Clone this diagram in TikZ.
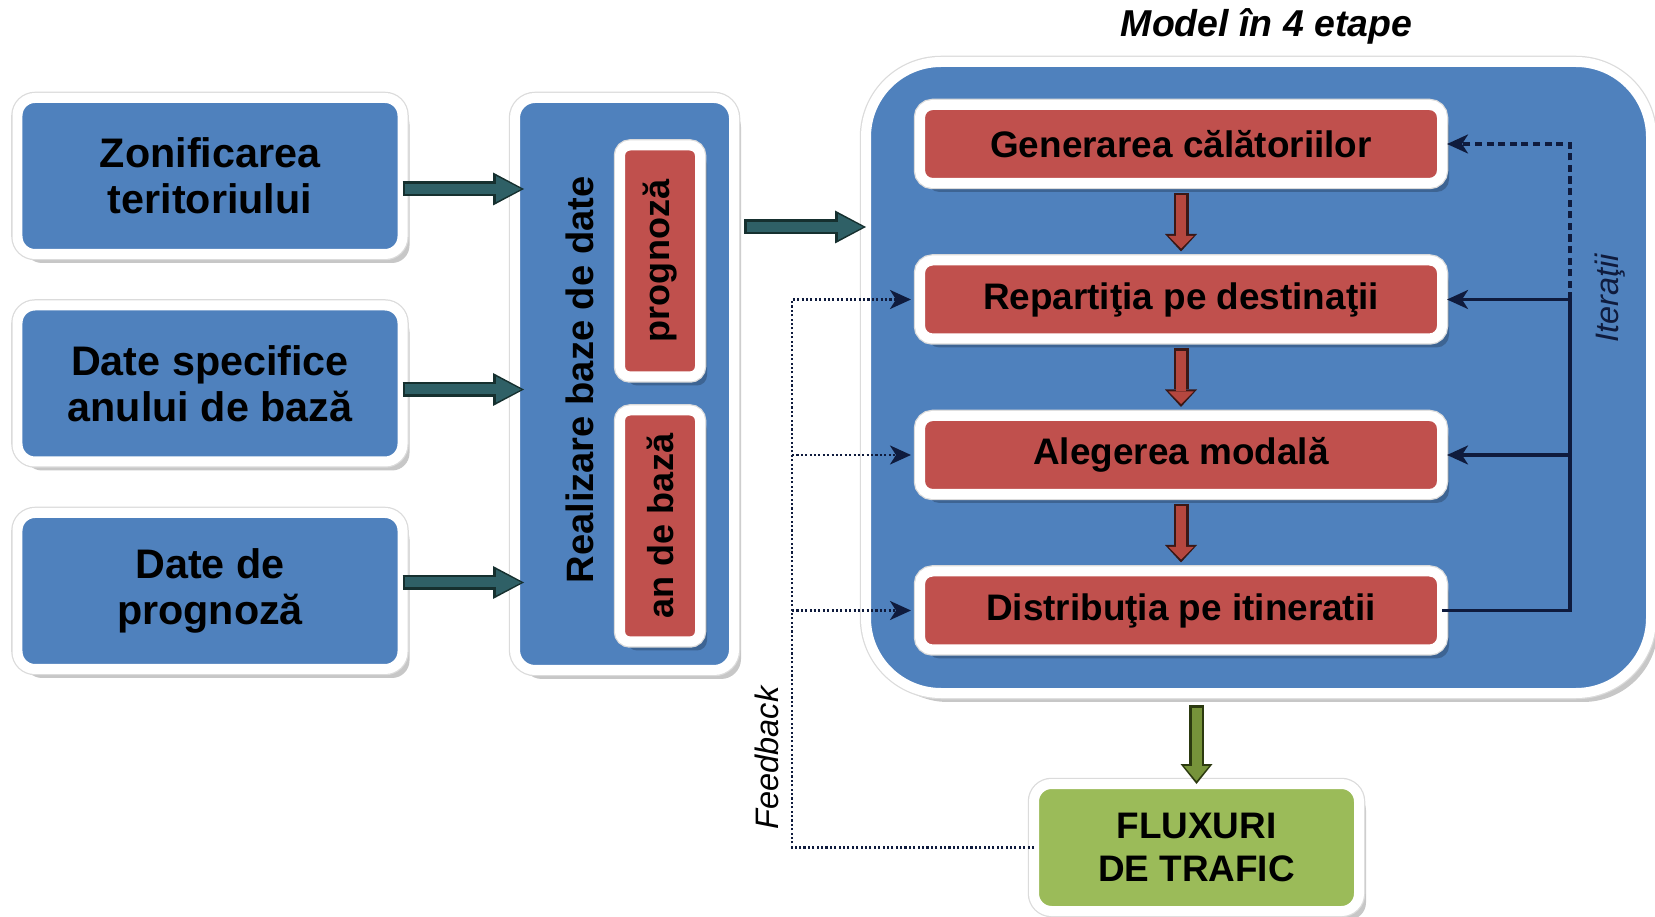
\documentclass[tikz,border=0pt]{standalone}
\usepackage{fontspec}
\setmainfont{Liberation Sans}
\usetikzlibrary{arrows.meta,positioning,shadows,calc}
\definecolor{mblue}{HTML}{4F81BD}
\definecolor{mred}{HTML}{C0504D}
\definecolor{mgreen}{HTML}{9BBB59}
\definecolor{ateal}{HTML}{2F6066}
\definecolor{atealdk}{HTML}{16302F}
\definecolor{ared}{HTML}{B5473F}
\definecolor{areddk}{HTML}{3A1816}
\definecolor{agreen}{HTML}{76933A}
\definecolor{agreendk}{HTML}{2C3A10}
\definecolor{onavy}{HTML}{0F1B3D}

\begin{document}
\begin{tikzpicture}[
  wframe/.style={draw=white,line width=0.2cm,outer sep=0pt,inner sep=2pt,align=center,
                 drop shadow={shadow xshift=0.14cm,shadow yshift=-0.18cm,
                              fill=black,opacity=0.22},
                 preaction={draw=black!14,line width=0.25cm}},
  inbox/.style={wframe,fill=mblue,rounded corners=0.35cm,minimum width=7.7cm,
                minimum height=3.12cm,font=\fontsize{23.5}{26}\selectfont\bfseries},
  dbbox/.style={wframe,fill=mred,rounded corners=0.2cm,minimum width=1.6cm,
                minimum height=4.62cm,font=\fontsize{20.5}{24}\selectfont\bfseries},
  stepbox/.style={wframe,fill=mred,rounded corners=0.25cm,minimum width=10.44cm,
                  minimum height=1.56cm,font=\fontsize{21}{24}\selectfont\bfseries},
  lbl/.style={font=\fontsize{18.5}{22}\selectfont\itshape},
  tealarr/.style={draw=ateal,line width=0.2cm,shorten >=0.06cm,shorten <=0.05cm,
                  -{Triangle[length=0.5cm,width=0.52cm,line width=0pt]},
                  preaction={draw=atealdk,line width=0.3cm,shorten >=0pt,shorten <=0pt,
                  -{Triangle[length=0.62cm,width=0.66cm,line width=0pt]}}},
  redarr/.style={draw=ared,line width=0.2cm,shorten >=0.06cm,shorten <=0.05cm,
                 -{Triangle[length=0.25cm,width=0.5cm,line width=0pt]},
                 preaction={draw=areddk,line width=0.3cm,shorten >=0pt,shorten <=0pt,
                 -{Triangle[length=0.35cm,width=0.64cm,line width=0pt]}}},
  greenarr/.style={draw=agreen,line width=0.2cm,shorten >=0.06cm,shorten <=0.05cm,
                   -{Triangle[length=0.3cm,width=0.5cm,line width=0pt]},
                   preaction={draw=agreendk,line width=0.3cm,shorten >=0pt,shorten <=0pt,
                   -{Triangle[length=0.4cm,width=0.64cm,line width=0pt]}}},
  itline/.style={draw=onavy,line width=1.8pt,
                 -{Stealth[length=0.42cm,width=0.38cm,inset=0.12cm]}},
  fbline/.style={itline,line width=1.6pt,dash pattern=on 1.2pt off 1.3pt,
                 shorten >=0.18cm}
]
\useasboundingbox (0,0) rectangle (33.1,-18.34);

\node[inbox] (zona) at (4.2,-3.52) {Zonificarea\\teritoriului};
\node[inbox,below=1.03cm of zona] (datebaza) {Date specifice\\anului de bază};
\node[inbox,below=1.03cm of datebaza] (dateprog) {Date de\\prognoză};

\node[wframe,fill=mblue,rounded corners=0.4cm,minimum width=4.38cm,
      minimum height=11.44cm] (baze) at (12.49,-7.68) {};
\node[rotate=90,font=\fontsize{21.7}{24}\selectfont\bfseries] (bazelbl)
  at (11.6,-7.6) {Realizare baze de date};
\node[dbbox] (prog) at (13.2,-5.22) {\rotatebox{90}{prognoză}};
\node[dbbox] (anbaza) at (13.2,-10.52) {\rotatebox{90}{an de bază}};

\node[wframe,fill=mblue,rounded corners=1.5cm,minimum width=15.7cm,
      minimum height=12.62cm] (model) at (25.17,-7.55) {};
\node[font=\fontsize{21.3}{24}\selectfont\bfseries\itshape] (titlu)
  at (25.33,-0.53) {Model în 4 etape};

\node[stepbox] (gen) at (23.62,-2.88) {Generarea călătoriilor};
\node[stepbox,below=1.55cm of gen] (rep) {Repartiţia pe destinaţii};
\node[stepbox,below=1.55cm of rep] (aleg) {Alegerea modală};
\node[stepbox,below=1.55cm of aleg] (dist) {Distribuţia pe itineratii};

\node[wframe,fill=mgreen,rounded corners=0.35cm,minimum width=6.5cm,
      minimum height=2.54cm,font=\fontsize{21}{24}\selectfont\bfseries]
  (flux) at (23.93,-16.95) {FLUXURI\\DE TRAFIC};

\draw[tealarr] ([yshift=-0.26cm]zona.east) -- ($(zona.east -| baze.west)+(0.18,-0.26)$);
\draw[tealarr] ([yshift=-0.12cm]datebaza.east) -- ($(datebaza.east -| baze.west)+(0.18,-0.12)$);
\draw[tealarr] ([yshift=0.17cm]dateprog.east) -- ($(dateprog.east -| baze.west)+(0.18,0.17)$);
\coordinate (bazeout) at ($(baze.east)+(0.2,3.14)$);
\draw[tealarr] (bazeout) -- (bazeout -| model.west);

\draw[redarr] ([yshift=-0.2cm]gen.south) -- ([yshift=0.18cm]rep.north);
\draw[redarr] ([yshift=-0.2cm]rep.south) -- ([yshift=0.18cm]aleg.north);
\draw[redarr] ([yshift=-0.2cm]aleg.south) -- ([yshift=0.18cm]dist.north);
\coordinate (modelout) at ($(flux.north |- model.south)+(0,-0.24)$);
\draw[greenarr] (modelout) -- (flux.north);

\coordinate (itx) at (31.4,0);
\draw[itline,dash pattern=on 4pt off 2.6pt,shorten >=0.1cm]
  (rep.east -| itx) -- (gen.east -| itx) -- (gen.east);
\draw[itline,shorten >=0.1cm]
  (dist.east) -- (dist.east -| itx) -- (rep.east -| itx) -- (rep.east);
\draw[itline,shorten >=0.1cm] (aleg.east -| itx) -- (aleg.east);
\node[lbl,rotate=90,text=onavy] (itlbl) at (32.2,-5.97) {Iteraţii};

\coordinate (fbx) at (15.84,0);
\draw[fbline] (flux.west) -- (flux.west -| fbx) -- (rep.west -| fbx) -- (rep.west);
\draw[fbline] (aleg.west -| fbx) -- (aleg.west);
\draw[fbline] (dist.west -| fbx) -- (dist.west);
\node[lbl,rotate=90] (fblbl) at (15.34,-15.16) {Feedback};
\end{tikzpicture}
\end{document}
